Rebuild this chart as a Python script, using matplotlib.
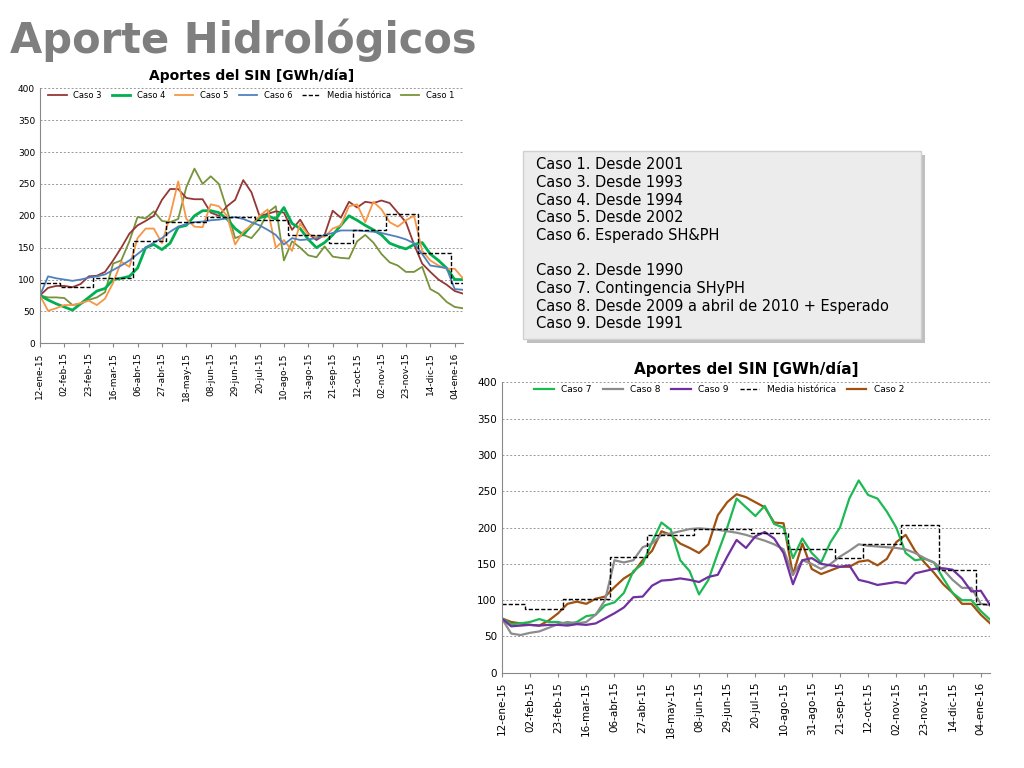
import matplotlib.pyplot as plt
from matplotlib.patches import FancyBboxPatch

TICK_LABELS = ["12-ene-15", "02-feb-15", "23-feb-15", "16-mar-15", "06-abr-15", "27-abr-15",
               "18-may-15", "08-jun-15", "29-jun-15", "20-jul-15", "10-ago-15", "31-ago-15",
               "21-sep-15", "12-oct-15", "02-nov-15", "23-nov-15", "14-dic-15", "04-ene-16"]

media = [95, 95, 95, 88, 88, 88, 88, 102, 102, 102, 102, 102, 160, 160, 160, 160, 190, 190, 190, 190,
         190, 198, 198, 198, 198, 198, 198, 193, 193, 193, 193, 170, 170, 170, 170, 170, 158, 158, 158,
         177, 177, 177, 177, 203, 203, 203, 203, 142, 142, 142, 142, 95, 95]

caso1 = [75, 72, 72, 71, 60, 62, 68, 72, 80, 125, 130, 160, 198, 196, 207, 192, 190, 195, 245, 274,
         250, 262, 250, 210, 165, 170, 165, 180, 205, 215, 130, 160, 150, 138, 135, 152, 136, 134, 133,
         160, 170, 158, 140, 127, 122, 112, 112, 120, 85, 78, 65, 57, 55]
caso3 = [75, 87, 90, 90, 88, 93, 105, 106, 112, 130, 150, 172, 185, 192, 200, 225, 242, 242, 228, 226,
         226, 205, 200, 215, 225, 256, 237, 200, 203, 207, 205, 178, 194, 172, 162, 170, 208, 197, 222,
         213, 222, 220, 224, 220, 205, 190, 155, 125, 112, 100, 92, 82, 78]
caso4 = [75, 68, 62, 57, 52, 62, 72, 82, 86, 100, 102, 105, 118, 150, 155, 147, 157, 182, 185, 200,
         208, 208, 205, 195, 180, 170, 185, 197, 200, 195, 213, 188, 180, 163, 150, 158, 170, 185, 200,
         193, 185, 178, 170, 157, 152, 148, 155, 158, 140, 130, 118, 100, 100]
caso5 = [75, 51, 55, 60, 60, 63, 67, 60, 70, 95, 128, 120, 165, 180, 180, 157, 200, 254, 195, 183,
         182, 218, 215, 200, 155, 175, 185, 200, 210, 150, 162, 145, 188, 170, 168, 167, 180, 185, 215,
         218, 190, 222, 210, 190, 183, 193, 200, 145, 130, 122, 117, 117, 102]
caso6 = [75, 105, 102, 100, 98, 100, 103, 105, 108, 115, 122, 130, 140, 150, 158, 165, 175, 183, 187,
         190, 191, 193, 194, 196, 198, 195, 190, 185, 178, 170, 155, 165, 162, 163, 165, 170, 173, 177,
         177, 177, 176, 175, 173, 170, 167, 163, 157, 140, 122, 120, 118, 85, 84]

caso2 = [75, 70, 68, 66, 65, 72, 82, 95, 98, 95, 102, 105, 118, 130, 138, 155, 168, 195, 190, 178,
         172, 165, 177, 217, 235, 246, 242, 235, 228, 207, 206, 135, 178, 143, 136, 141, 146, 146, 153,
         155, 148, 157, 180, 190, 168, 152, 138, 122, 110, 95, 95, 80, 68]
caso7 = [75, 67, 68, 70, 74, 70, 70, 67, 70, 78, 80, 93, 97, 110, 140, 150, 180, 207, 197, 155,
         140, 108, 128, 165, 200, 240, 228, 216, 230, 205, 200, 158, 185, 165, 152, 180, 200, 240, 265,
         245, 240, 222, 200, 165, 155, 157, 152, 130, 110, 100, 100, 85, 73]
caso8 = [75, 54, 52, 55, 57, 62, 67, 70, 68, 70, 80, 100, 155, 152, 155, 173, 178, 190, 192, 195,
         198, 199, 198, 197, 195, 193, 190, 186, 182, 177, 170, 135, 155, 150, 143, 150, 160, 168, 177,
         175, 174, 173, 172, 170, 165, 158, 152, 142, 128, 117, 117, 95, 93]
caso9 = [75, 64, 65, 66, 65, 66, 66, 65, 67, 66, 68, 75, 82, 90, 104, 105, 120, 127, 128, 130,
         128, 125, 132, 135, 160, 183, 172, 188, 194, 185, 165, 122, 155, 158, 150, 148, 146, 148, 128,
         125, 121, 123, 125, 123, 137, 140, 143, 144, 142, 130, 112, 113, 93]

BOX_LINES = ["Caso 1. Desde 2001", "Caso 3. Desde 1993", "Caso 4. Desde 1994", "Caso 5. Desde 2002",
             "Caso 6. Esperado SH&PH", "", "Caso 2. Desde 1990", "Caso 7. Contingencia SHyPH",
             "Caso 8. Desde 2009 a abril de 2010 + Esperado", "Caso 9. Desde 1991"]


def style_axes(ax, fs):
    x = range(len(media))
    ax.set_xlim(0, len(media) - 1)
    ax.set_ylim(0, 400)
    ax.set_yticks(range(0, 401, 50))
    ax.set_xticks(range(0, len(media), 3))
    ax.set_xticklabels(TICK_LABELS, rotation=90, fontsize=fs)
    ax.tick_params(axis="y", labelsize=fs, length=0)
    ax.tick_params(axis="x", length=3, color="#888888")
    ax.grid(axis="y", linestyle=(0, (2, 2)), color="#999999", linewidth=0.7)
    for side in ("top", "right"):
        ax.spines[side].set_visible(False)
    for side in ("left", "bottom"):
        ax.spines[side].set_color("#888888")
    ax.plot(x, media, color="black", linestyle=(0, (3, 1.5)), linewidth=1.0,
            drawstyle="steps-mid", label="Media histórica")
    return x


fig = plt.figure(figsize=(10.24, 7.68), dpi=100)
fig.text(0.01, 0.948, "Aporte Hidrológicos", fontsize=30, fontweight="bold", color="#7f7f7f",
         va="center", ha="left")

ax1 = fig.add_axes([0.039, 0.553, 0.413, 0.332])
x = range(len(media))
ax1.plot(x, caso1, color="#77933C", lw=1.3, label="Caso 1")
ax1.plot(x, caso3, color="#953735", lw=1.3, label="Caso 3")
ax1.plot(x, caso4, color="#00B050", lw=2.0, label="Caso 4")
ax1.plot(x, caso5, color="#F79646", lw=1.3, label="Caso 5")
ax1.plot(x, caso6, color="#4F81BD", lw=1.3, label="Caso 6")
style_axes(ax1, 6.5)
h, l = ax1.get_legend_handles_labels()
ax1.legend(h[1:] + h[:1], l[1:] + l[:1], ncol=6, loc="upper center", frameon=False, fontsize=6,
           handlelength=2.2, columnspacing=1.2, bbox_to_anchor=(0.5, 1.02))
ax1.set_title("Aportes del SIN [GWh/día]", fontsize=10, fontweight="bold", pad=6)

ax2 = fig.add_axes([0.490, 0.124, 0.477, 0.378])
ax2.plot(x, caso2, color="#A0500F", lw=1.6, label="Caso 2")
ax2.plot(x, caso7, color="#1DB954", lw=1.6, label="Caso 7")
ax2.plot(x, caso8, color="#8C8C8C", lw=1.6, label="Caso 8")
ax2.plot(x, caso9, color="#7030A0", lw=1.6, label="Caso 9")
style_axes(ax2, 7.5)
h, l = ax2.get_legend_handles_labels()
ax2.legend(h[1:] + h[:1], l[1:] + l[:1], ncol=5, loc="upper left", frameon=False, fontsize=6.5,
           handlelength=2.2, columnspacing=1.2, bbox_to_anchor=(0.05, 1.02))
ax2.set_title("Aportes del SIN [GWh/día]", fontsize=11, fontweight="bold", pad=6)

# shaded text box with a drop shadow
shadow = FancyBboxPatch((0.515, 0.553), 0.388, 0.245, boxstyle="square,pad=0", transform=fig.transFigure,
                        facecolor="#bfbfbf", edgecolor="none", zorder=1)
box = FancyBboxPatch((0.511, 0.558), 0.388, 0.245, boxstyle="square,pad=0", transform=fig.transFigure,
                     facecolor="#ececec", edgecolor="#d0d0d0", zorder=2)
fig.patches.extend([shadow, box])
fig.text(0.523, 0.795, "\n".join(BOX_LINES), fontsize=10.5, va="top", ha="left", linespacing=1.22,
         zorder=3)

fig.savefig("out.png", dpi=100)
